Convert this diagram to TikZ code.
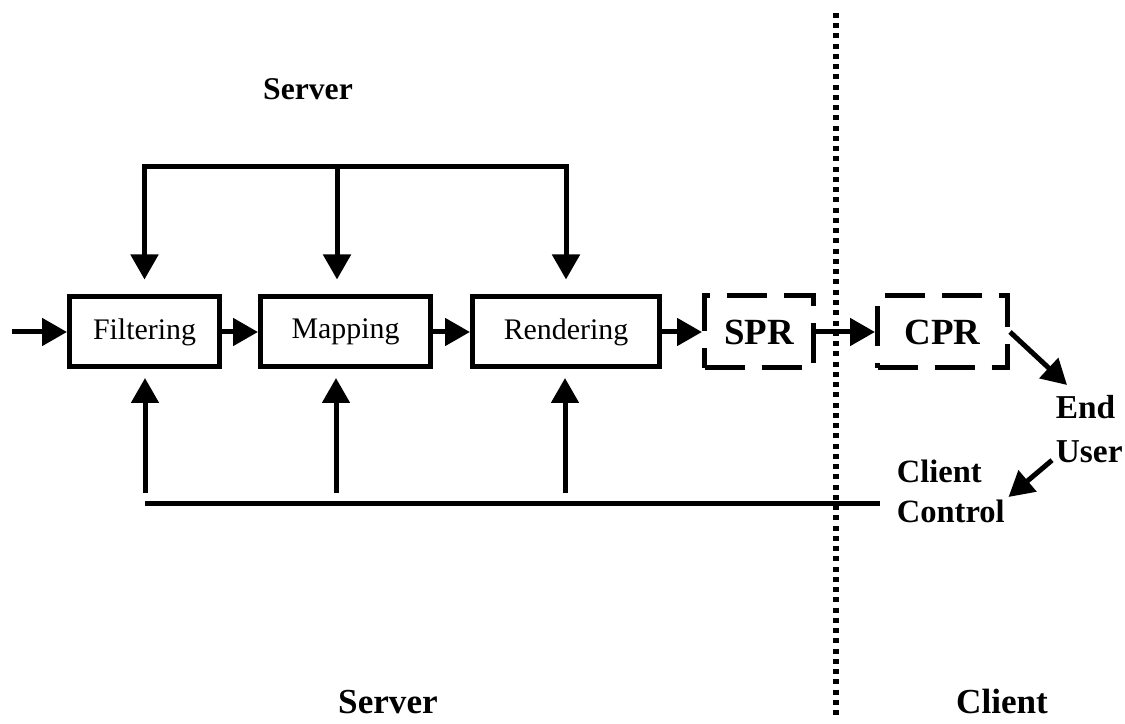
\documentclass[tikz,border=0pt]{standalone}
\usepackage{fontspec}
\setmainfont{Liberation Serif}
\usetikzlibrary{arrows.meta,positioning}
\tikzset{
  bloc/.style={rectangle, draw, line width=1mm, minimum height=1.4cm, inner sep=0pt,
               font=\fontsize{17}{20}\selectfont},
  blocpt/.style={bloc, minimum height=1.44cm, dash pattern=on 0.8cm off 0.34cm,
                 font=\bfseries\fontsize{21}{25}\selectfont},
  arr/.style={-{Triangle[length=0.5cm,width=0.54cm]}, line width=1mm},
  lien/.style={line width=1mm},
  pointille/.style={line width=0.11cm, dash pattern=on 0.1cm off 0.105cm},
  titre/.style={inner sep=2pt, font=\bfseries\fontsize{#1}{#1}\selectfont},
}

\begin{document}
\begin{tikzpicture}
  \useasboundingbox (0,0) rectangle (22.5,14.46);
  % separation serveur / client
  \coordinate (dh) at (16.72,14.2);
  \coordinate (db) at (16.72,0.1);
  \draw[pointille] (dh) -- (db);

  % chaine de traitement
  \node[bloc, minimum width=3cm] (filt) at (2.89,7.82) {Filtering};
  \node[bloc, minimum width=3.4cm, right=0.72cm of filt] (map) {Mapping};
  \node[bloc, minimum width=3.74cm, right=0.74cm of map] (rend) {Rendering};
  \node[blocpt, minimum width=2.18cm, right=0.8cm of rend] (spr) {SPR};
  \node[blocpt, minimum width=2.6cm, right=1.18cm of spr] (cpr) {CPR};

  \node[titre=18, anchor=base] (srvh) at (6.16,12.46) {Server};
  \node[titre=20, anchor=base] (srvb) at (7.76,0.2) {Server};
  \node[titre=20, anchor=base] (cli) at (20.04,0.2) {Client};
  \node[titre=19, anchor=base west, align=left, font=\bfseries\fontsize{19}{25}\selectfont]
    (eu) at (21.04,5.22) {End\\User};
  \node[titre=18, anchor=base west, align=left, font=\bfseries\fontsize{18.5}{22.7}\selectfont]
    (cc) at (17.86,4.02) {Client\\Control};

  \coordinate (in) at (0.24,7.82);
  \draw[arr] (in) -- (filt.west);
  \draw[arr] (filt) -- (map);
  \draw[arr] (map) -- (rend);
  \draw[arr] (rend) -- (spr);
  \draw[arr] (spr) -- (cpr);

  % commandes du haut
  \coordinate (h2) at (6.74,11.12);
  \draw[arr, shorten >=0.3cm] (h2) -| (filt);
  \draw[arr, shorten >=0.3cm] (h2) -| (rend);
  \draw[arr, shorten >=0.3cm] (h2) -- (h2 |- map.north);

  % retour client
  \coordinate (bg) at (2.9,4.4);
  \coordinate (b1) at (2.9,4.6);
  \coordinate (b2) at (6.72,4.6);
  \coordinate (b3) at (11.3,4.6);
  \draw[lien, shorten >=0.27cm] (bg) -- (bg -| cc.west);
  \draw[arr, shorten >=0.17cm] (b1) -- (b1 |- filt.south);
  \draw[arr, shorten >=0.17cm] (b2) -- (b2 |- map.south);
  \draw[arr, shorten >=0.17cm] (b3) -- (b3 |- rend.south);

  \coordinate (eut) at (21.34,6.76);
  \draw[arr] (cpr.east) -- (eut);
  \draw[arr] ([yshift=0.12cm]eu.south west) -- (cc.-6);
\end{tikzpicture}
\end{document}
